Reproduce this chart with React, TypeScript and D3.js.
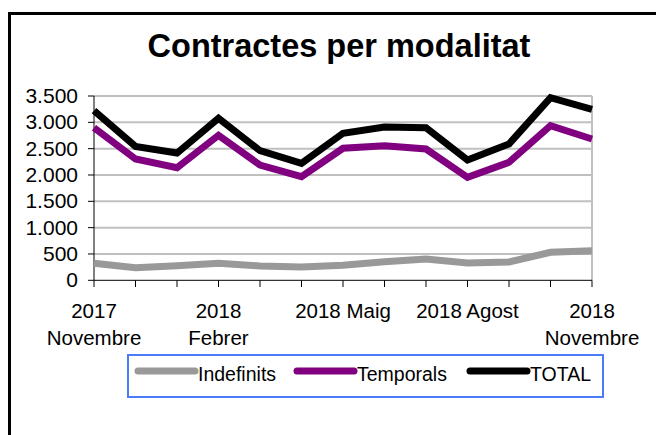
import React from "react";
import * as d3 from "d3";

const months = ["2017-11","2017-12","2018-01","2018-02","2018-03","2018-04","2018-05","2018-06","2018-07","2018-08","2018-09","2018-10","2018-11"];
const indefinits = [323, 240, 278, 323, 272, 253, 285, 353, 405, 329, 348, 532, 562];
const temporals = [2898, 2303, 2138, 2753, 2189, 1967, 2507, 2556, 2493, 1956, 2241, 2936, 2683];
const total = [3221, 2543, 2416, 3076, 2461, 2220, 2792, 2909, 2898, 2285, 2589, 3468, 3245];
const yTicks = [0, 500, 1000, 1500, 2000, 2500, 3000, 3500];
const xLabels: { i: number; lines: string[] }[] = [
  { i: 0, lines: ["2017", "Novembre"] },
  { i: 3, lines: ["2018", "Febrer"] },
  { i: 6, lines: ["2018 Maig"] },
  { i: 9, lines: ["2018 Agost"] },
  { i: 12, lines: ["2018", "Novembre"] },
];
const seriesNames = ["Indefinits", "Temporals", "TOTAL"];
const seriesColors = ["#999999", "#800080", "#000000"];
const seriesData = [indefinits, temporals, total];

const fmt = (v: number) => d3.format(",")(v).replace(/,/g, ".");

export default function App() {
  const W = 656, H = 435;
  const x = d3.scaleLinear().domain([0, months.length - 1]).range([94, 592]);
  const y = d3.scaleLinear().domain([0, 3500]).range([280.3, 96]);
  const line = d3.line<number>().x((_, i) => x(i)).y((d) => y(d));
  const font = "'Liberation Sans', Arial, sans-serif";
  const legendX = [138, 297, 470];
  return (
    <svg width={W} height={H} style={{ position: "absolute", left: 0, top: 0, background: "#fff" }} fontFamily={font}>
      <rect x={0} y={0} width={W} height={H} fill="#fff" />
      <path d={`M9.5,${H + 5} L9.5,13.5 L${W + 5},13.5`} fill="none" stroke="#000" strokeWidth={3} />
      <text x={339} y={57} textAnchor="middle" fontSize={32.5} fontWeight="bold">Contractes per modalitat</text>
      {yTicks.map((t) => (
        <g key={t}>
          {t > 0 && <line x1={94} x2={592} y1={y(t)} y2={y(t)} stroke="#c0c0c0" strokeWidth={2} />}
          <line x1={88} x2={94} y1={y(t)} y2={y(t)} stroke="#000" strokeWidth={1} />
          <text x={78} y={y(t) + 7} textAnchor="end" fontSize={21}>{fmt(t)}</text>
        </g>
      ))}
      <line x1={592} x2={592} y1={96} y2={280.3} stroke="#c0c0c0" strokeWidth={2} />
      <line x1={94} x2={94} y1={96} y2={280.3} stroke="#000" strokeWidth={1} />
      <line x1={94} x2={592} y1={280.3} y2={280.3} stroke="#000" strokeWidth={1} />
      {months.map((m, i) => (
        <line key={m} x1={x(i)} x2={x(i)} y1={280.3} y2={287} stroke="#000" strokeWidth={1} />
      ))}
      {xLabels.map((l) => (
        <text key={l.i} x={x(l.i)} textAnchor="middle" fontSize={20.5}>
          {l.lines.map((s, k) => (
            <tspan key={k} x={x(l.i)} y={318 + k * 27}>{s}</tspan>
          ))}
        </text>
      ))}
      {seriesData.map((d, s) => (
        <path key={s} d={line(d) || ""} fill="none" stroke={seriesColors[s]} strokeWidth={7} strokeLinejoin="miter" />
      ))}
      <rect x={128} y={355} width={475} height={42} fill="#fff" stroke="#4a7cf7" strokeWidth={2} />
      {seriesNames.map((n, s) => (
        <g key={n}>
          <line x1={legendX[s]} x2={legendX[s] + 57} y1={371} y2={371} stroke={seriesColors[s]} strokeWidth={7} strokeLinecap="round" />
          <text x={legendX[s] + 60} y={381} fontSize={19.5}>{n}</text>
        </g>
      ))}
    </svg>
  );
}
